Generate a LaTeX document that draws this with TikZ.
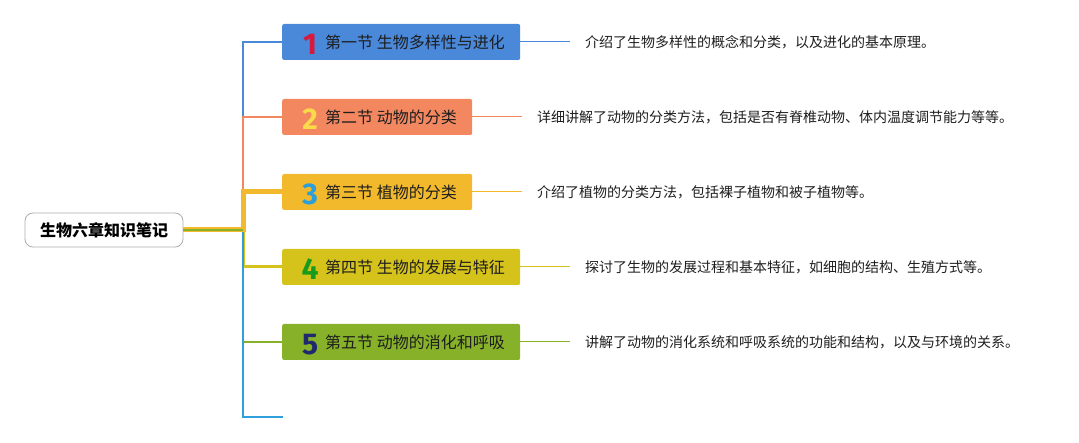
\documentclass[tikz,border=0pt]{standalone}
\usepackage{fontspec}
\setmainfont{Noto Sans CJK SC}
\newfontfamily\digitfont{Fira Sans}
\definecolor{c1}{HTML}{4A88DA}
\definecolor{c2}{HTML}{F3875F}
\definecolor{c3}{HTML}{F2B92C}
\definecolor{c4}{HTML}{D5C31C}
\definecolor{c5}{HTML}{86B128}
\definecolor{c6}{HTML}{30A0DC}
\definecolor{d1}{HTML}{D7193D}
\definecolor{d2}{HTML}{F9DB4A}
\definecolor{d3}{HTML}{2B9FD9}
\definecolor{d4}{HTML}{1A9A1A}
\definecolor{d5}{HTML}{1F2A6E}
\definecolor{txt}{HTML}{1E1E1E}
\newcommand{\numdigit}[2]{\smash{\raisebox{-6pt}{\makebox[18pt][c]{\digitfont\bfseries\fontsize{30}{30}\selectfont\textcolor{#2}{#1}}}}\hspace{6pt}}
\tikzset{
  sect/.style={rectangle, rounded corners=2pt, minimum height=36pt, inner xsep=19pt, inner ysep=0pt, anchor=west, text=txt, font=\fontsize{16}{16}\selectfont},
  desc/.style={anchor=west, inner xsep=15pt, text=txt, font=\fontsize{14}{15}\selectfont},
  rootbox/.style={rectangle, rounded corners=8pt, draw=black!32, line width=0.8pt, fill=white, minimum width=158pt, minimum height=34pt, font=\fontsize{16}{16}\selectfont\bfseries, text=black},
  thinlink/.style={line width=1pt}
}
\begin{document}
\begin{tikzpicture}[x=1pt,y=-1pt]
\useasboundingbox (0,0) rectangle (1079,443);
% sections
\node[sect, fill=c1] (s1) at (282,42) {\makebox[200pt][l]{\numdigit{1}{d1}第一节 生物多样性与进化}};
\node[sect, fill=c2] (s2) at (282,117) {\makebox[152pt][l]{\numdigit{2}{d2}第二节 动物的分类}};
\node[sect, fill=c3] (s3) at (282,192) {\makebox[152pt][l]{\numdigit{3}{d3}第三节 植物的分类}};
\node[sect, fill=c4] (s4) at (282,267) {\makebox[200pt][l]{\numdigit{4}{d4}第四节 生物的发展与特征}};
\node[sect, fill=c5] (s5) at (282,342) {\makebox[200pt][l]{\numdigit{5}{d5}第五节 动物的消化和呼吸}};
% descriptions
\node[desc] (t1) at (570,42) {介绍了生物多样性的概念和分类，以及进化的基本原理。};
\node[desc] (t2) at (522,117) {详细讲解了动物的分类方法，包括是否有脊椎动物、体内温度调节能力等等。};
\node[desc] (t3) at (522,192) {介绍了植物的分类方法，包括裸子植物和被子植物等。};
\node[desc] (t4) at (570,267) {探讨了生物的发展过程和基本特征，如细胞的结构、生殖方式等。};
\node[desc] (t5) at (570,342) {讲解了动物的消化系统和呼吸系统的功能和结构，以及与环境的关系。};
% root
\node[rootbox] (root) at (104,230) {生物六章知识笔记};
\coordinate (tr) at (243,230);
\coordinate (e6) at (283,417);
% branches
\draw[c1, line width=2.5pt] (root.east) -- (tr) |- (s1.west);
\draw[c2, line width=2.5pt] (root.east) -- (tr) |- (s2.west);
\draw[c4, line width=3pt] (root.east) -- (tr) |- (s4.west);
\draw[c5, line width=2pt] (root.east) -- (tr) |- (s5.west);
\draw[c6, line width=2.5pt] (root.east) -- (tr) |- (e6);
\draw[c3, line width=5pt] (root.east) -- (tr) |- (s3.west);
\draw[c5, line width=2pt] (root.east) -- (tr);
% description links
\draw[c1, thinlink] (s1.east) -- (t1.west);
\draw[c2, thinlink] (s2.east) -- (t2.west);
\draw[c3, thinlink] (s3.east) -- (t3.west);
\draw[c4, thinlink] (s4.east) -- (t4.west);
\draw[c5, thinlink] (s5.east) -- (t5.west);
\end{tikzpicture}
\end{document}
